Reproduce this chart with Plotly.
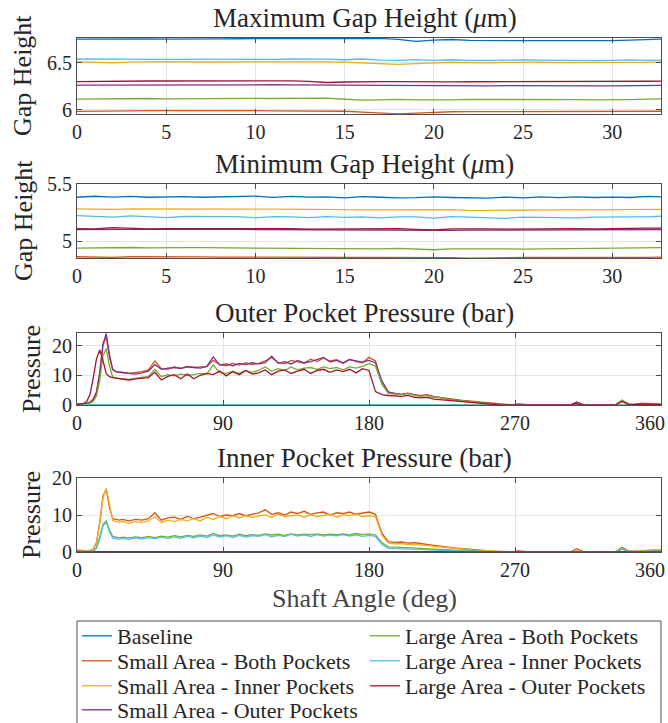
import plotly.graph_objects as go

W, H = 668, 723
FONT = "Liberation Serif"
TXT = "#262626"

NAMES = ["Baseline", "Small Area - Both Pockets", "Small Area - Inner Pockets",
         "Small Area - Outer Pockets", "Large Area - Both Pockets",
         "Large Area - Inner Pockets", "Large Area - Outer Pockets"]
COLORS = ["#0072BD", "#D95319", "#EDB120", "#7E2F8E", "#77AC30", "#4DBEEE", "#A2142F"]

# ---------------- gap height data (x in deg, 0 .. 360/11) ----------------
X_GAP = [0, 1, 2, 3, 4, 5, 6, 7, 8, 9, 10, 11, 12, 13, 14, 15, 16, 17, 18, 19,
         20, 21, 22, 23, 24, 25, 26, 27, 28, 29, 30, 31, 32, 32.727]

MAX_BASELINE = [6.750, 6.752, 6.755, 6.756, 6.754, 6.750, 6.749, 6.751, 6.753, 6.755,
                6.756, 6.756, 6.757, 6.758, 6.757, 6.756, 6.754, 6.758, 6.748, 6.727,
                6.740, 6.747, 6.738, 6.734, 6.735, 6.736, 6.735, 6.736, 6.735, 6.735,
                6.736, 6.740, 6.748, 6.752]
MAX_SB = [5.983, 5.982, 5.985, 5.988, 5.990, 5.991, 5.990, 5.989, 5.990, 5.991,
          5.990, 5.989, 5.988, 5.987, 5.986, 5.984, 5.975, 5.962, 5.957, 5.965,
          5.975, 5.979, 5.980, 5.981, 5.982, 5.982, 5.982, 5.981, 5.982, 5.983,
          5.982, 5.982, 5.983, 5.984]
MAX_SI = [6.510, 6.506, 6.500, 6.506, 6.510, 6.511, 6.509, 6.506, 6.508, 6.510,
          6.511, 6.512, 6.513, 6.512, 6.510, 6.505, 6.500, 6.488, 6.482, 6.490,
          6.500, 6.505, 6.502, 6.498, 6.503, 6.506, 6.505, 6.502, 6.504, 6.506,
          6.505, 6.503, 6.504, 6.506]
MAX_SO = [6.262, 6.263, 6.264, 6.264, 6.265, 6.266, 6.267, 6.268, 6.268, 6.268,
          6.267, 6.266, 6.265, 6.264, 6.262, 6.258, 6.256, 6.255, 6.256, 6.255,
          6.252, 6.251, 6.253, 6.255, 6.257, 6.258, 6.258, 6.257, 6.256, 6.255,
          6.254, 6.255, 6.258, 6.260]
MAX_LB = [6.114, 6.116, 6.122, 6.124, 6.120, 6.116, 6.118, 6.122, 6.124, 6.123,
          6.121, 6.120, 6.122, 6.125, 6.124, 6.112, 6.103, 6.105, 6.110, 6.106,
          6.104, 6.106, 6.110, 6.111, 6.109, 6.107, 6.108, 6.109, 6.108, 6.106,
          6.104, 6.108, 6.113, 6.116]
MAX_LI = [6.540, 6.537, 6.534, 6.538, 6.536, 6.533, 6.535, 6.538, 6.537, 6.535,
          6.533, 6.536, 6.540, 6.542, 6.538, 6.532, 6.540, 6.528, 6.526, 6.533,
          6.526, 6.532, 6.525, 6.526, 6.529, 6.530, 6.527, 6.524, 6.521, 6.522,
          6.526, 6.530, 6.525, 6.528]
MAX_LO = [6.300, 6.303, 6.305, 6.306, 6.306, 6.306, 6.307, 6.309, 6.311, 6.311,
          6.310, 6.309, 6.308, 6.302, 6.290, 6.295, 6.300, 6.300, 6.299, 6.296,
          6.295, 6.296, 6.298, 6.298, 6.297, 6.297, 6.296, 6.295, 6.296, 6.297,
          6.299, 6.301, 6.303, 6.305]

MIN_BASELINE = [5.384, 5.393, 5.386, 5.392, 5.384, 5.386, 5.390, 5.384, 5.387, 5.385,
                5.394, 5.383, 5.391, 5.386, 5.388, 5.378, 5.390, 5.384, 5.378, 5.380,
                5.388, 5.382, 5.379, 5.376, 5.386, 5.378, 5.388, 5.380, 5.387, 5.382,
                5.386, 5.382, 5.392, 5.388]
MIN_SB = [4.864, 4.860, 4.859, 4.864, 4.862, 4.860, 4.861, 4.862, 4.861, 4.860,
          4.861, 4.860, 4.858, 4.858, 4.859, 4.860, 4.858, 4.859, 4.860, 4.858,
          4.861, 4.857, 4.852, 4.856, 4.858, 4.858, 4.859, 4.858, 4.858, 4.859,
          4.859, 4.858, 4.859, 4.860]
MIN_SI = [5.282, 5.280, 5.278, 5.283, 5.282, 5.281, 5.279, 5.279, 5.280, 5.280,
          5.281, 5.281, 5.281, 5.280, 5.279, 5.276, 5.274, 5.275, 5.276, 5.278,
          5.279, 5.276, 5.268, 5.270, 5.273, 5.274, 5.275, 5.274, 5.274, 5.274,
          5.275, 5.275, 5.276, 5.279]
MIN_SO = [5.102, 5.104, 5.106, 5.104, 5.103, 5.104, 5.105, 5.105, 5.104, 5.103,
          5.102, 5.101, 5.100, 5.099, 5.099, 5.100, 5.099, 5.098, 5.096, 5.094,
          5.093, 5.094, 5.096, 5.097, 5.098, 5.099, 5.100, 5.100, 5.100, 5.100,
          5.101, 5.100, 5.101, 5.102]
MIN_LB = [4.940, 4.942, 4.943, 4.945, 4.941, 4.939, 4.943, 4.943, 4.942, 4.940,
          4.938, 4.939, 4.938, 4.937, 4.935, 4.931, 4.931, 4.933, 4.937, 4.933,
          4.925, 4.932, 4.934, 4.935, 4.933, 4.930, 4.932, 4.934, 4.935, 4.934,
          4.935, 4.936, 4.940, 4.943]
MIN_LI = [5.224, 5.218, 5.210, 5.222, 5.216, 5.206, 5.216, 5.214, 5.212, 5.214,
          5.204, 5.214, 5.212, 5.206, 5.214, 5.208, 5.212, 5.204, 5.212, 5.212,
          5.202, 5.214, 5.210, 5.206, 5.200, 5.210, 5.208, 5.210, 5.204, 5.210,
          5.208, 5.212, 5.212, 5.218]
MIN_LO = [5.110, 5.108, 5.118, 5.112, 5.108, 5.110, 5.110, 5.114, 5.112, 5.110,
          5.108, 5.112, 5.110, 5.106, 5.108, 5.110, 5.112, 5.108, 5.110, 5.104,
          5.098, 5.108, 5.110, 5.108, 5.106, 5.108, 5.106, 5.108, 5.110, 5.108,
          5.112, 5.110, 5.114, 5.114]

# ---------------- pocket pressure data (shaft angle, deg) ----------------
ANGLE = [0, 2, 4, 6, 8, 10, 12, 14, 16, 18, 20, 22, 24, 26, 28,
         32, 36, 40, 44, 48, 52, 56, 60, 64, 68,
         72, 76, 80, 84, 88, 92, 96, 100, 104, 108,
         112, 116, 120, 124, 128, 132, 136, 140, 144, 148,
         152, 156, 160, 164, 168, 172, 176, 180, 184, 188,
         192, 196, 200, 204, 208, 212, 216, 220, 224, 228,
         232, 236, 240, 244, 248, 252, 256, 260, 264, 268,
         272, 276, 280, 284, 288, 292, 296, 300, 304, 308,
         312, 316, 320, 324, 328, 332, 336, 340, 344, 348,
         352, 356, 360]

ZERO = [0.0] * len(ANGLE)

OUT_SB = [0.3, 0.3, 0.4, 0.6, 1.0, 2.0, 4.5, 11.0, 20.0, 23.0, 16.0, 11.8, 11.2, 11.0, 11.0,
          10.6, 10.8, 11.2, 11.8, 14.8, 12.2, 12.0, 12.8, 12.4, 13.0,
          12.6, 12.8, 12.9, 15.0, 13.6, 13.2, 14.0, 13.4, 14.2, 13.6,
          14.0, 14.8, 16.0, 14.2, 13.8, 15.0, 14.4, 14.0, 15.4, 14.6,
          15.8, 14.8, 15.2, 14.2, 15.4, 14.6, 14.2, 16.0, 14.8, 7.0,
          4.2, 3.9, 3.6, 4.0, 3.4, 3.2, 3.5, 2.8, 2.6, 2.2,
          2.0, 1.6, 1.4, 1.1, 0.9, 0.7, 0.4, 0.2, 0.1, 0.05,
          0.3, 0.05, 0.0, 0.0, 0.0, 0.0, 0.0, 0.0, 0.0, 0.9,
          0.2, 0.0, 0.0, 0.0, 0.0, 0.1, 1.4, 0.3, 0.2, 0.5,
          0.5, 0.4, 0.3]
OUT_SO = [0.2, 0.2, 0.3, 0.5, 0.9, 1.8, 4.0, 10.5, 20.5, 24.0, 17.0, 12.0, 11.2, 11.0, 10.9,
          10.6, 10.4, 10.8, 11.4, 13.6, 12.0, 12.4, 12.6, 12.2, 12.8,
          12.6, 12.4, 13.0, 16.2, 13.4, 13.8, 13.2, 14.0, 13.6, 14.2,
          13.8, 14.2, 16.4, 14.0, 14.6, 13.8, 15.0, 14.2, 14.6, 15.2,
          16.0, 14.4, 15.0, 14.0, 15.2, 14.8, 14.4, 15.0, 14.2, 8.0,
          4.4, 3.8, 3.6, 3.9, 3.5, 3.0, 3.3, 2.7, 2.5, 2.0,
          1.8, 1.5, 1.3, 1.0, 0.8, 0.6, 0.3, 0.1, 0.05, 0.0,
          0.3, 0.05, 0.0, 0.0, 0.0, 0.0, 0.0, 0.0, 0.0, 1.0,
          0.1, 0.0, 0.0, 0.0, 0.0, 0.1, 1.5, 0.3, 0.2, 0.5,
          0.4, 0.3, 0.2]
OUT_LB = [0.1, 0.1, 0.2, 0.3, 0.6, 1.2, 3.0, 8.0, 16.5, 19.0, 13.0, 9.5, 9.0, 9.0, 8.8,
          8.6, 9.0, 9.2, 9.6, 12.0, 9.5, 10.2, 9.8, 10.4, 10.0,
          10.2, 10.6, 10.4, 13.5, 10.8, 10.6, 11.4, 10.6, 11.6, 11.0,
          11.6, 12.8, 11.4, 12.2, 11.6, 12.8, 11.8, 12.4, 12.6, 12.0,
          12.8, 12.2, 12.6, 11.8, 12.8, 12.4, 13.0, 14.0, 13.0, 7.0,
          3.8, 3.6, 3.5, 3.9, 3.2, 3.0, 3.3, 2.6, 2.5, 2.0,
          1.8, 1.4, 1.2, 1.0, 0.8, 0.6, 0.3, 0.1, 0.05, 0.0,
          0.2, 0.0, 0.0, 0.0, 0.0, 0.0, 0.0, 0.0, 0.0, 0.6,
          0.1, 0.0, 0.0, 0.0, 0.0, 0.1, 1.7, 0.3, 0.1, 0.3,
          0.4, 0.3, 0.2]
OUT_LO = [0.2, 0.3, 0.5, 1.2, 3.5, 9.0, 15.5, 18.5, 15.0, 10.5, 9.5, 9.2, 9.0, 9.0, 8.8,
          8.4, 8.8, 9.0, 9.2, 11.0, 8.4, 9.6, 10.2, 8.8, 10.4,
          8.8, 10.0, 10.6, 10.2, 11.4, 9.8, 11.2, 10.2, 11.6, 10.4,
          10.8, 11.8, 10.2, 11.4, 11.8, 10.6, 11.4, 12.0, 10.6, 11.6,
          12.0, 11.0, 11.8, 11.2, 12.0, 10.8, 12.2, 11.6, 4.5, 3.5,
          3.2, 3.0, 2.9, 3.2, 2.6, 2.4, 2.6, 2.0, 1.8, 1.5,
          1.3, 1.1, 0.9, 0.7, 0.5, 0.3, 0.1, 0.05, 0.0, 0.0,
          0.1, 0.0, 0.0, 0.0, 0.0, 0.0, 0.0, 0.0, 0.0, 0.5,
          0.0, 0.0, 0.0, 0.0, 0.0, 0.0, 1.2, 0.2, 0.1, 0.3,
          0.3, 0.2, 0.1]

IN_SB = [0.5, 0.4, 0.4, 0.3, 0.4, 0.8, 2.5, 8.0, 15.0, 17.0, 12.0, 9.0, 8.8, 8.6, 8.8,
         8.4, 8.8, 8.6, 9.0, 10.6, 8.6, 9.2, 9.4, 8.8, 9.6,
         9.0, 9.4, 9.8, 10.4, 9.6, 10.0, 9.8, 10.4, 9.8, 10.2,
         10.6, 11.4, 10.2, 10.6, 10.0, 10.8, 10.4, 11.0, 10.2, 10.6,
         10.8, 10.0, 10.6, 10.4, 10.8, 10.2, 10.6, 10.8, 10.2, 5.0,
         2.8, 2.6, 2.7, 2.4, 2.5, 2.2, 2.0, 1.8, 1.6, 1.3,
         1.1, 1.0, 0.8, 0.6, 0.5, 0.3, 0.2, 0.1, 0.1, 0.05,
         0.3, 0.05, 0.0, 0.0, 0.0, 0.0, 0.1, 0.0, 0.0, 0.9,
         0.1, 0.0, 0.0, 0.0, 0.0, 0.1, 1.2, 0.3, 0.2, 0.4,
         0.4, 0.5, 0.6]
IN_SI = [0.6, 0.5, 0.4, 0.3, 0.3, 0.7, 2.2, 7.5, 14.5, 17.2, 12.5, 8.6, 8.2, 8.0, 8.3,
         7.8, 8.2, 8.0, 8.4, 9.6, 8.0, 8.6, 8.2, 8.8, 8.4,
         9.0, 8.4, 9.4, 8.8, 9.6, 9.0, 9.8, 9.2, 9.8, 9.4,
         9.6, 10.0, 9.4, 10.2, 9.6, 9.8, 10.0, 9.4, 10.0, 9.6,
         9.8, 10.2, 9.4, 10.0, 9.8, 10.2, 9.6, 9.8, 9.6, 4.5,
         2.4, 2.2, 2.3, 2.0, 2.1, 1.8, 1.7, 1.5, 1.3, 1.1,
         0.9, 0.8, 0.6, 0.5, 0.4, 0.3, 0.2, 0.1, 0.1, 0.05,
         0.1, 0.0, 0.0, 0.0, 0.0, 0.0, 0.1, 0.0, 0.0, 0.3,
         0.1, 0.0, 0.0, 0.0, 0.0, 0.1, 0.9, 0.2, 0.2, 0.4,
         0.5, 0.6, 0.7]
IN_LB = [0.1, 0.1, 0.1, 0.1, 0.1, 0.2, 1.2, 4.0, 7.5, 8.4, 6.0, 4.2, 4.0, 3.8, 4.0,
         3.8, 4.1, 3.9, 4.2, 3.9, 4.3, 4.0, 4.4, 4.1, 4.5,
         4.2, 4.6, 4.3, 5.0, 4.4, 4.6, 4.3, 4.8, 4.4, 4.7,
         4.5, 4.9, 4.6, 4.8, 4.5, 4.9, 4.6, 4.8, 4.7, 4.9,
         4.6, 4.8, 4.7, 4.9, 4.6, 5.0, 4.7, 4.9, 4.6, 2.5,
         1.4, 1.3, 1.2, 1.1, 1.0, 0.9, 0.8, 0.7, 0.6, 0.5,
         0.4, 0.3, 0.3, 0.2, 0.2, 0.1, 0.1, 0.05, 0.0, 0.0,
         0.1, 0.0, 0.0, 0.0, 0.0, 0.0, 0.0, 0.0, 0.0, 0.2,
         0.0, 0.0, 0.0, 0.0, 0.0, 0.0, 0.8, 0.2, 0.1, 0.2,
         0.2, 0.2, 0.3]
IN_LI = [0.1, 0.1, 0.1, 0.1, 0.1, 0.2, 1.0, 3.5, 7.0, 8.0, 5.5, 3.8, 3.6, 3.5, 3.7,
         3.4, 3.8, 3.5, 3.9, 3.6, 4.0, 3.7, 4.1, 3.7, 4.2,
         3.8, 4.3, 3.9, 4.6, 4.0, 4.4, 3.9, 4.5, 4.0, 4.4,
         4.2, 4.7, 4.1, 4.5, 4.2, 4.8, 4.3, 4.6, 4.2, 4.7,
         4.3, 4.6, 4.4, 4.7, 4.3, 4.6, 4.2, 4.5, 4.2, 2.0,
         1.0, 0.9, 0.9, 0.8, 0.8, 0.7, 0.6, 0.5, 0.5, 0.4,
         0.3, 0.3, 0.2, 0.2, 0.1, 0.1, 0.1, 0.05, 0.0, 0.0,
         0.1, 0.0, 0.0, 0.0, 0.0, 0.0, 0.0, 0.0, 0.0, 0.2,
         0.0, 0.0, 0.0, 0.0, 0.0, 0.0, 0.9, 0.2, 0.1, 0.2,
         0.2, 0.2, 0.3]

PANELS = [
    dict(x=X_GAP, ys=[MAX_BASELINE, MAX_SB, MAX_SI, MAX_SO, MAX_LB, MAX_LI, MAX_LO]),
    dict(x=X_GAP, ys=[MIN_BASELINE, MIN_SB, MIN_SI, MIN_SO, MIN_LB, MIN_LI, MIN_LO]),
    dict(x=ANGLE, ys=[ZERO, OUT_SB, ZERO, OUT_SO, OUT_LB, ZERO, OUT_LO]),
    dict(x=ANGLE, ys=[ZERO, IN_SB, IN_SI, ZERO, IN_LB, IN_LI, ZERO]),
]

TITLES = ["Maximum Gap Height (<i>μ</i>m)", "Minimum Gap Height (<i>μ</i>m)",
          "Outer Pocket Pressure (bar)", "Inner Pocket Pressure (bar)"]
YLABELS = ["Gap Height", "Gap Height", "Pressure", "Pressure"]

# tick values / labels
XTICKS_GAP = [0, 5, 10, 15, 20, 25, 30]
XTICKS_ANG = [0, 90, 180, 270, 360]
XTEXT_ANG = ["0", "90", "180", "270", ""]   # last label placed flush with the figure edge
LAST_ANG_LABEL = "360"

# pixel boxes (top, bottom) of each panel
BOXES = [(38, 114), (184, 258), (333, 405), (478, 552)]
XL, XR = 77, 661
CX = 365

fig = go.Figure()
for p, panel in enumerate(PANELS):
    sfx = "" if p == 0 else str(p + 1)
    for k, (name, col, y) in enumerate(zip(NAMES, COLORS, panel["ys"])):
        tr = dict(x=panel["x"], y=y, mode="lines", name=name,
                  line=dict(color=col, width=1.3),
                  xaxis="x" + sfx, yaxis="y" + sfx, showlegend=(p == 0))
        if p == 0:
            tr["legend"] = "legend" if k == 0 else "legend%d" % (k + 1)
        fig.add_trace(go.Scatter(**tr))

axis_common = dict(showline=True, linecolor="#4d4d4d", linewidth=1, mirror="ticks",
                   ticks="inside", ticklen=5, tickcolor="#4d4d4d", showgrid=True,
                   gridcolor="#e4e4e4", gridwidth=1, zeroline=False,
                   tickfont=dict(family=FONT, size=20, color=TXT))

XRANGES = [[0, 32.727], [0, 32.727], [0, 360], [0, 360]]
YRANGES = [[5.955, 6.763], [4.853, 5.5], [0, 24.2], [0, 20]]
YTICKS = [[6, 6.5], [5, 5.5], [0, 10, 20], [0, 10, 20]]

layout = dict(width=W, height=H,
              margin=dict(l=0, r=0, t=0, b=0, autoexpand=False),
              paper_bgcolor="white", plot_bgcolor="white",
              font=dict(family=FONT, color=TXT))
annotations = []
for p in range(4):
    sfx = "" if p == 0 else str(p + 1)
    top, bot = BOXES[p]
    xa = dict(axis_common, domain=[XL / W, XR / W], range=XRANGES[p], anchor="y" + sfx)
    if p < 2:
        xa["tickvals"] = XTICKS_GAP
    else:
        xa["tickvals"] = XTICKS_ANG
        xa["ticktext"] = XTEXT_ANG
        annotations.append(dict(text=LAST_ANG_LABEL, x=667 / W, y=1 - (bot + 18) / H,
                                xref="paper", yref="paper", showarrow=False,
                                font=dict(family=FONT, size=20, color=TXT),
                                xanchor="right", yanchor="middle"))
    layout["xaxis" + sfx] = xa
    layout["yaxis" + sfx] = dict(axis_common, domain=[1 - bot / H, 1 - top / H],
                                 range=YRANGES[p], tickvals=YTICKS[p], anchor="x" + sfx)
    annotations.append(dict(text=TITLES[p], x=CX / W, y=1 - (top - 20) / H,
                            xref="paper", yref="paper", showarrow=False,
                            font=dict(family=FONT, size=27, color=TXT),
                            xanchor="center", yanchor="middle"))
    lx = 23 if p < 2 else 31
    annotations.append(dict(text=YLABELS[p], x=lx / W, y=1 - (top + bot) / 2 / H,
                            xref="paper", yref="paper", showarrow=False, textangle=-90,
                            font=dict(family=FONT, size=26, color=TXT),
                            xanchor="center", yanchor="middle"))
annotations.append(dict(text="Shaft Angle (deg)", x=CX / W, y=1 - 598 / H,
                        xref="paper", yref="paper", showarrow=False,
                        font=dict(family=FONT, size=26, color="#444444"),
                        xanchor="center", yanchor="middle"))
layout["annotations"] = annotations

# legend: one legend box per entry, two columns
ROWS = [636, 661, 686, 710]
LEG_POS = [(77, ROWS[0]), (77, ROWS[1]), (77, ROWS[2]), (77, ROWS[3]),
           (365, ROWS[0]), (365, ROWS[1]), (365, ROWS[2])]
for k, (lxp, lyp) in enumerate(LEG_POS):
    key = "legend" if k == 0 else "legend%d" % (k + 1)
    layout[key] = dict(x=lxp / W, y=1 - lyp / H, xanchor="left", yanchor="middle",
                       bgcolor="rgba(0,0,0,0)", borderwidth=0,
                       font=dict(family=FONT, size=22, color=TXT))

layout["shapes"] = [dict(type="rect", xref="paper", yref="paper",
                         x0=XL / W, x1=XR / W, y0=-0.05, y1=1 - 621 / H,
                         line=dict(color="#4d4d4d", width=1), fillcolor="rgba(0,0,0,0)")]

fig.update_layout(**layout)
fig.write_html("out.html")
